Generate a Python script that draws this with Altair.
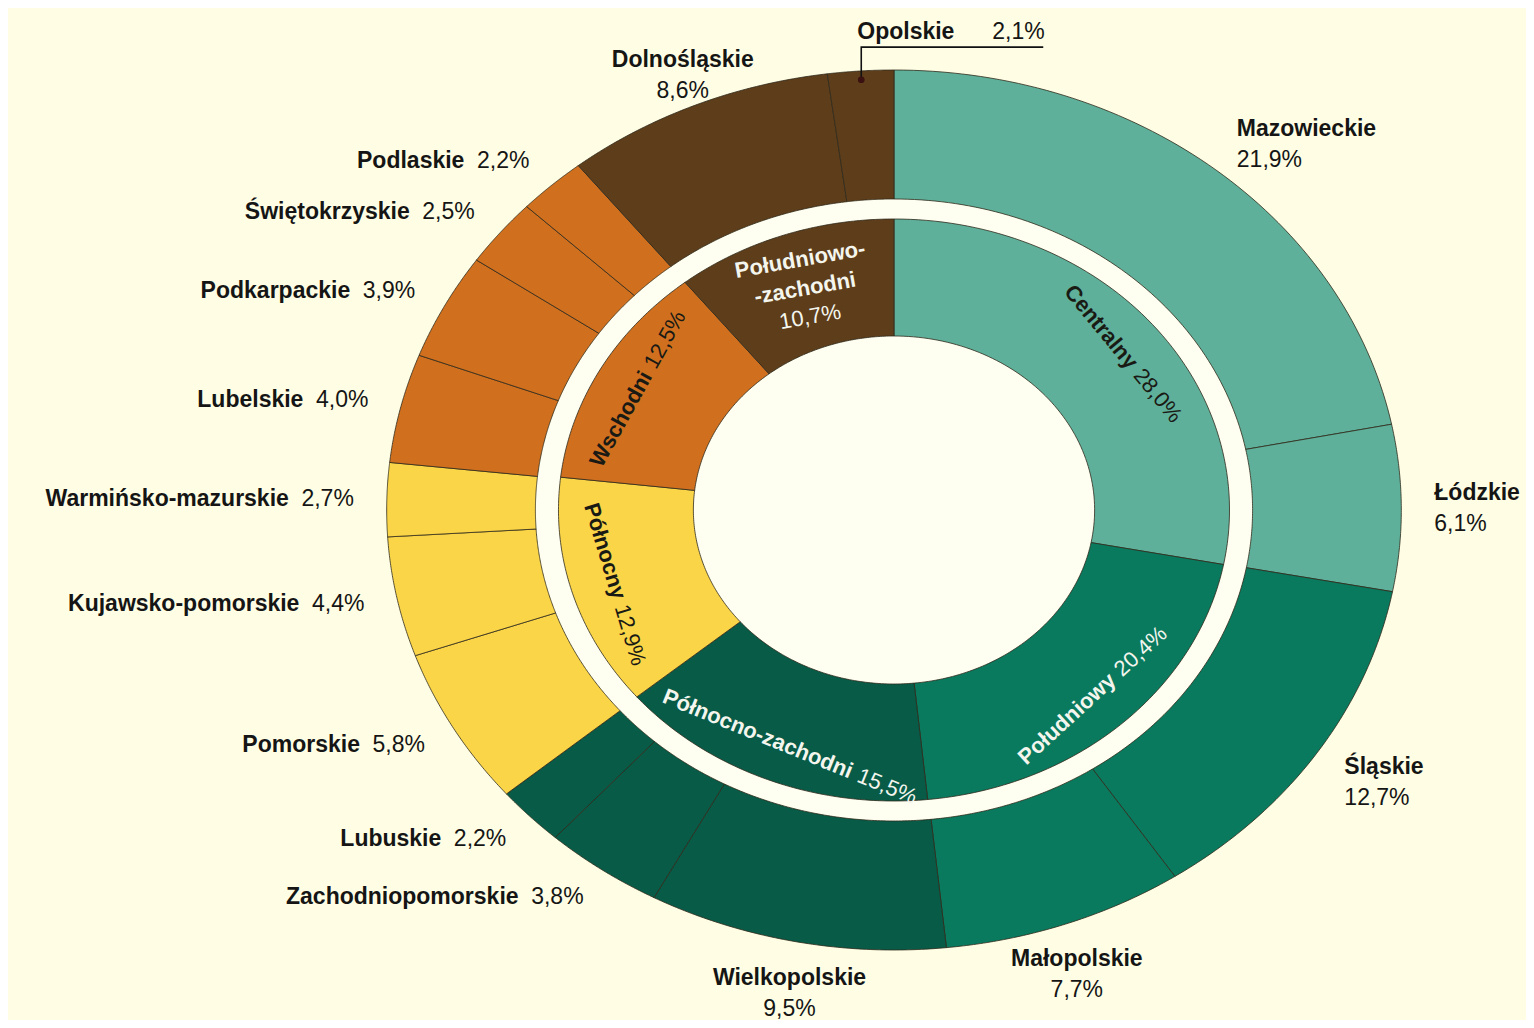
import altair as alt
import pandas as pd

# ---------------- data ----------------
outer_names = ["Mazowieckie", "Łódzkie", "Śląskie", "Małopolskie", "Wielkopolskie",
               "Zachodniopomorskie", "Lubuskie", "Pomorskie", "Kujawsko-pomorskie",
               "Warmińsko-mazurskie", "Lubelskie", "Podkarpackie", "Świętokrzyskie",
               "Podlaskie", "Dolnośląskie", "Opolskie"]
outer_values = [21.9, 6.1, 12.7, 7.7, 9.5, 3.8, 2.2, 5.8, 4.4, 2.7, 4.0, 3.9, 2.5, 2.2, 8.6, 2.1]
outer_groups = ["Centralny", "Centralny", "Południowy", "Południowy",
                "Północno-zachodni", "Północno-zachodni", "Północno-zachodni",
                "Północny", "Północny", "Północny",
                "Wschodni", "Wschodni", "Wschodni", "Wschodni",
                "Południowo-zachodni", "Południowo-zachodni"]

inner_names = ["Centralny", "Południowy", "Północno-zachodni", "Północny", "Wschodni",
               "Południowo-zachodni"]
inner_values = [28.0, 20.4, 15.5, 12.9, 12.5, 10.7]
inner_label_names = ["Centralny", "Południowy", "Północno-zachodni", "Północny", "Wschodni",
                     "Południowo-\n-zachodni"]

group_colors = ["#5FB09A", "#0A7A5E", "#075B47", "#FAD548", "#D0701F", "#5E3D1A"]


def pct(v):
    return f"{v:.1f}".replace(".", ",") + "%"


df_outer = pd.DataFrame({"name": outer_names, "value": outer_values, "group": outer_groups,
                         "i": list(range(len(outer_names))),
                         "vlabel": [pct(v) for v in outer_values]})
df_inner = pd.DataFrame({"name": inner_names, "value": inner_values,
                         "i": list(range(len(inner_names))),
                         "lname": inner_label_names,
                         "vlabel": [pct(v) for v in inner_values]})
df_gap = pd.DataFrame({"name": ["gap"], "value": [1.0], "i": [0]})

# ---------------- geometry / style ----------------
W, H = 1518, 1012
CX, CY = 886, 502
SX = 1.153                      # horizontal stretch of the ellipse
R_OUT, R_OUT_IN, R_IN_OUT, R_HOLE = 440, 311, 291, 174
N = 72
FONT = "Liberation Sans"
FS = 23
IFS = 22
BG = "#FFFEE4"
GAP = "#FFFFF1"
EDGE = "#2E2A1C"
DARK = "#151515"

XS = alt.Scale(domain=[-CX, W - CX], nice=False, zero=False)
YS = alt.Scale(domain=[CY - H, CY], nice=False, zero=False)


def with_angles(df):
    return (alt.Chart(df)
            .transform_window(cum="sum(value)", sort=[alt.SortField("i")], frame=[None, 0])
            .transform_joinaggregate(total="sum(value)")
            .transform_calculate(t0="2*PI*(datum.cum - datum.value)/datum.total",
                                 t1="2*PI*datum.cum/datum.total",
                                 mid="2*PI*(datum.cum - datum.value/2)/datum.total"))


def ring(df, r0, r1, color, stroke_w=0.8):
    base = (with_angles(df)
            .transform_calculate(k=f"sequence(0, {2 * N + 2})")
            .transform_flatten(["k"])
            .transform_calculate(
                ang=f"datum.k <= {N} ? datum.t0 + (datum.t1 - datum.t0)*datum.k/{N}"
                    f" : datum.t1 - (datum.t1 - datum.t0)*(datum.k - {N + 1})/{N}",
                rr=f"datum.k <= {N} ? {r1} : {r0}")
            .transform_calculate(px=f"{SX}*datum.rr*sin(datum.ang)",
                                 py="datum.rr*cos(datum.ang)"))
    return base.mark_line(filled=True, interpolate="linear-closed", stroke=EDGE,
                          strokeWidth=stroke_w).encode(
        x=alt.X("px:Q", scale=XS, axis=None),
        y=alt.Y("py:Q", scale=YS, axis=None),
        order=alt.Order("k:Q"),
        detail="name:N",
        color=color,
    )


grp_scale = alt.Scale(domain=inner_names, range=group_colors)

gap_layer = ring(df_gap, 0, R_OUT_IN, alt.value(GAP), stroke_w=0)
outer_layer = ring(df_outer, R_OUT_IN, R_OUT, alt.Color("group:N", scale=grp_scale, legend=None))
inner_layer = ring(df_inner, R_HOLE, R_IN_OUT, alt.Color("name:N", scale=grp_scale, legend=None))

# ---------------- outer labels ----------------
RLX, RLY1, RLY2 = 1.065, 1.075, 1.12
lab = (with_angles(df_outer)
       .transform_calculate(s="sin(datum.mid)", c="cos(datum.mid)")
       .transform_calculate(
           lx=f"{SX}*{R_OUT}*{RLX}*datum.s",
           ly=f"{R_OUT}*((datum.value >= 6 && datum.c < 0) ? {RLY2} : {RLY1})*datum.c"))
enc = dict(x=alt.X("lx:Q", scale=XS, axis=None), y=alt.Y("ly:Q", scale=YS, axis=None))
txt = dict(font=FONT, fontSize=FS, color=DARK, baseline="middle")

two_left = lab.transform_filter("datum.value >= 6 && datum.s > 0.4")
two_center = lab.transform_filter("datum.value >= 6 && abs(datum.s) <= 0.4")
one_right = lab.transform_filter("datum.value < 6 && datum.name != 'Opolskie'")

label_layers = [
    two_left.mark_text(align="left", dy=-15, fontWeight="bold", **txt).encode(text="name:N", **enc),
    two_left.mark_text(align="left", dy=16, **txt).encode(text="vlabel:N", **enc),
    two_center.mark_text(align="center", dy=-15, fontWeight="bold", **txt).encode(text="name:N", **enc),
    two_center.mark_text(align="center", dy=16, **txt).encode(text="vlabel:N", **enc),
    one_right.mark_text(align="right", dx=-65, fontWeight="bold", **txt).encode(text="name:N", **enc),
    one_right.mark_text(align="right", dx=0, **txt).encode(text="vlabel:N", **enc),
]

# Opolskie leader line
lead = (with_angles(df_outer)
        .transform_filter("datum.name == 'Opolskie'")
        .transform_calculate(k="sequence(0, 3)")
        .transform_flatten(["k"])
        .transform_calculate(
            px=f"{SX}*{R_OUT}*0.98*sin(datum.mid) + (datum.k == 2 ? 182 : 0)",
            py=f"datum.k == 0 ? {R_OUT}*0.98*cos(datum.mid) : {R_OUT}*1.052"))
lead_enc = dict(x=alt.X("px:Q", scale=XS, axis=None), y=alt.Y("py:Q", scale=YS, axis=None))
leader_layers = [
    lead.mark_line(color="#111111", strokeWidth=1.6).encode(order=alt.Order("k:Q"), **lead_enc),
    lead.transform_filter("datum.k == 0").mark_circle(size=45, color="#3A1010", opacity=1).encode(**lead_enc),
    lead.transform_filter("datum.k == 1").mark_text(
        align="left", baseline="alphabetic", dx=-4, dy=-8, fontWeight="bold",
        font=FONT, fontSize=FS, color=DARK).encode(text="name:N", **lead_enc),
    lead.transform_filter("datum.k == 1").mark_text(
        align="left", baseline="alphabetic", dx=131, dy=-8,
        font=FONT, fontSize=FS, color=DARK).encode(text="vlabel:N", **lead_enc),
]

# ---------------- inner labels (name bold + value regular, along the ring) ----------------
RI = 0.87
GAPW = 7
ilab = (with_angles(df_inner)
        .transform_filter("datum.name != 'Południowo-zachodni'")
        .transform_calculate(deg="datum.mid*180/PI")
        .transform_calculate(
            rot="(datum.deg > 90 && datum.deg < 270) ? datum.deg - 180 : datum.deg",
            shift=f"(length(datum.lname)*0.575*{IFS} - length(datum.vlabel)*0.56*{IFS})/2")
        .transform_calculate(
            lx=f"{SX}*{R_IN_OUT}*{RI}*sin(datum.mid) + datum.shift*cos(datum.rot*PI/180)",
            ly=f"{R_IN_OUT}*{RI}*cos(datum.mid) - datum.shift*sin(datum.rot*PI/180)"))
ienc = dict(x=alt.X("lx:Q", scale=XS, axis=None), y=alt.Y("ly:Q", scale=YS, axis=None),
            angle=alt.Angle("rot:Q", scale=None))
dark_inner = ilab.transform_filter(
    alt.FieldOneOfPredicate(field="name", oneOf=["Centralny", "Północny", "Wschodni"]))
light_inner = ilab.transform_filter(
    alt.FieldOneOfPredicate(field="name", oneOf=["Południowy", "Północno-zachodni"]))
LIGHT = "#F4F6EE"
ITXT = "#1A1A14"


def inner_pair(src, col):
    return [
        src.mark_text(font=FONT, fontSize=IFS, fontWeight="bold", color=col, align="right",
                      baseline="middle", dx=-GAPW / 2).encode(text="lname:N", **ienc),
        src.mark_text(font=FONT, fontSize=IFS, color=col, align="left",
                      baseline="middle", dx=GAPW / 2).encode(text="vlabel:N", **ienc),
    ]


sw = (with_angles(df_inner)
      .transform_filter("datum.name == 'Południowo-zachodni'")
      .transform_calculate(lx=f"{SX}*{R_IN_OUT}*0.80*sin(datum.mid)",
                           ly=f"{R_IN_OUT}*0.80*cos(datum.mid)"))
sw_enc = dict(x=alt.X("lx:Q", scale=XS, axis=None), y=alt.Y("ly:Q", scale=YS, axis=None))
inner_label_layers = inner_pair(dark_inner, ITXT) + inner_pair(light_inner, LIGHT) + [
    sw.mark_text(font=FONT, fontSize=IFS, fontWeight="bold", color=LIGHT, align="center",
                 baseline="middle", angle=350, lineBreak="\n", lineHeight=29, dy=-31).encode(
        text="lname:N", **sw_enc),
    sw.mark_text(font=FONT, fontSize=IFS, color=LIGHT, align="center",
                 baseline="middle", angle=350, dy=27).encode(text="vlabel:N", **sw_enc),
]

chart = alt.layer(
    gap_layer, outer_layer, inner_layer,
    *label_layers, *leader_layers, *inner_label_layers
).properties(
    width=W, height=H, background=BG, padding=0,
    autosize=alt.AutoSizeParams(type="none"),
).configure_view(stroke=None)

chart.save("out.html", embed_options={"renderer": "svg", "actions": False})
